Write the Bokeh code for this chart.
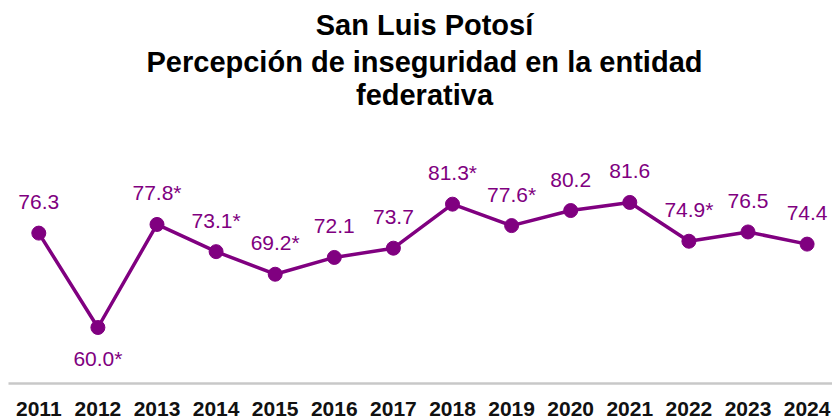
from bokeh.plotting import figure
from bokeh.models import ColumnDataSource, LabelSet, Label, Range1d, FixedTicker
from bokeh.core.properties import value
from bokeh.embed import file_html
from bokeh.resources import INLINE

years = [2011, 2012, 2013, 2014, 2015, 2016, 2017, 2018, 2019, 2020, 2021, 2022, 2023, 2024]
values = [76.3, 60.0, 77.8, 73.1, 69.2, 72.1, 73.7, 81.3, 77.6, 80.2, 81.6, 74.9, 76.5, 74.4]
significant = [False, True, True, True, True, False, False, True, True, False, False, True, False, False]
title_lines = ["San Luis Potosí", "Percepción de inseguridad en la entidad", "federativa"]

PURPLE = "#800080"
FONT = "Liberation Sans"

labels = [f"{v:.1f}" + ("*" if s else "") for v, s in zip(values, significant)]
vmin = min(values)
offsets = [-38 if v == vmin else 24 for v in values]

src = ColumnDataSource(dict(x=years, y=values, lab=labels, off=offsets))

ppu = 5.79   # pixels per unit (y)
xpu = 59.1   # pixels per year (x)
x_start = 2011 - 30.3 / xpu
y_start = 60.0 - 56 / ppu
y_end = 60.0 + 327 / ppu

p = figure(width=832, height=418, output_backend="svg", toolbar_location=None,
           min_border=0, min_border_left=8, min_border_right=0, min_border_top=0)
p.x_range = Range1d(x_start, x_start + 824 / xpu)
p.y_range = Range1d(y_start, y_end)
p.outline_line_color = None
p.grid.visible = False
p.yaxis.visible = False

ax = p.xaxis[0]
ax.ticker = FixedTicker(ticks=years)
ax.axis_line_color = "#c8c8c8"
ax.axis_line_width = 2.5
ax.major_tick_line_color = None
ax.minor_tick_line_color = None
ax.major_label_standoff = 12
ax.major_label_text_font = FONT
ax.major_label_text_font_style = "bold"
ax.major_label_text_font_size = "21px"
ax.major_label_text_color = "#111111"

p.line("x", "y", source=src, line_color=PURPLE, line_width=3.5)
p.scatter("x", "y", source=src, size=14, fill_color=PURPLE, line_color=PURPLE)

ls = LabelSet(x="x", y="y", text="lab", source=src, y_offset="off",
              text_align="center", text_baseline="alphabetic",
              text_font=value(FONT), text_font_size=value("21px"), text_color=PURPLE)
p.add_layout(ls)

def y_at(page_y):
    return 60.0 + (327 - page_y) / ppu

xc = x_start + (424 - 8) / xpu
for line, py in zip(title_lines, [24, 61, 94]):
    p.add_layout(Label(x=xc, y=y_at(py), text=line, text_align="center",
                       text_baseline="alphabetic", text_font=FONT,
                       text_font_style="bold", text_font_size="29px",
                       text_color="#000000"))

open("out.html", "w").write(file_html(p, INLINE))
